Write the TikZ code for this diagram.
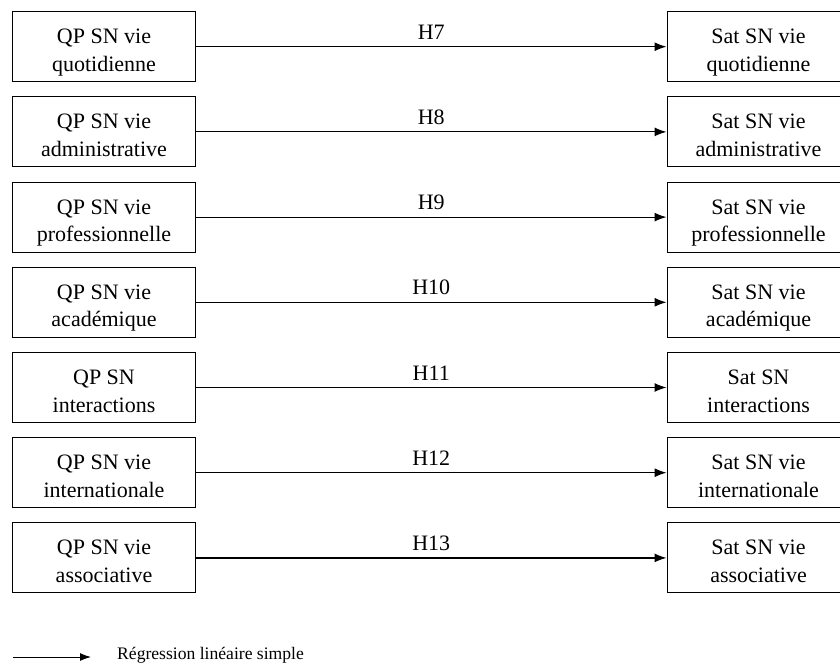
\documentclass[tikz,border=0pt]{standalone}
\usepackage{fontspec}
\setmainfont{Liberation Serif}
\usetikzlibrary{arrows.meta}
\tikzset{
  var/.style={draw, line width=1pt, minimum width=183pt, minimum height=70pt,
    align=center, inner sep=2pt, text height=49pt, text depth=0pt,
    font=\fontsize{22}{27.5}\selectfont},
  reg/.style={line width=1.2pt, -{Latex[length=12pt,width=9pt]}},
  hyp/.style={above=3.5pt, font=\fontsize{22}{24}\selectfont}
}

\begin{document}
\begin{tikzpicture}[x=1pt, y=-1pt]
  \useasboundingbox (0,0) rectangle (840,663);
  % left column
  \node[var] (qp7) at (104,46.7) {QP SN vie\\quotidienne};
  \node[var] (qp8) at (104,131.9) {QP SN vie\\administrative};
  \node[var] (qp9) at (104,217.1) {QP SN vie\\professionnelle};
  \node[var] (qp10) at (104,302.3) {QP SN vie\\académique};
  \node[var] (qp11) at (104,387.5) {QP SN\\interactions};
  \node[var] (qp12) at (104,472.7) {QP SN vie\\internationale};
  \node[var] (qp13) at (104,557.9) {QP SN vie\\associative};
  % right column (cut by the right edge)
  \node[var] (sat7) at (758.5,46.7) {Sat SN vie\\quotidienne};
  \node[var] (sat8) at (758.5,131.9) {Sat SN vie\\administrative};
  \node[var] (sat9) at (758.5,217.1) {Sat SN vie\\professionnelle};
  \node[var] (sat10) at (758.5,302.3) {Sat SN vie\\académique};
  \node[var] (sat11) at (758.5,387.5) {Sat SN\\interactions};
  \node[var] (sat12) at (758.5,472.7) {Sat SN vie\\internationale};
  \node[var] (sat13) at (758.5,557.9) {Sat SN vie\\associative};
  % hypotheses
  \draw[reg] (qp7) -- node[hyp] {H7} (sat7);
  \draw[reg] (qp8) -- node[hyp] {H8} (sat8);
  \draw[reg] (qp9) -- node[hyp] {H9} (sat9);
  \draw[reg] (qp10) -- node[hyp] {H10} (sat10);
  \draw[reg] (qp11) -- node[hyp] {H11} (sat11);
  \draw[reg] (qp12) -- node[hyp] {H12} (sat12);
  \draw[reg] (qp13) -- node[hyp] {H13} (sat13);
  % legend
  \coordinate (legA) at (13,657);
  \coordinate (legB) at (91,657);
  \draw[line width=1pt, -{Latex[length=11pt,width=8pt]}] (legA) -- (legB);
  \node[anchor=base west, inner sep=0pt, font=\fontsize{17.6}{20}\selectfont]
    (legtext) at (117,659) {Régression linéaire simple};
\end{tikzpicture}
\end{document}
